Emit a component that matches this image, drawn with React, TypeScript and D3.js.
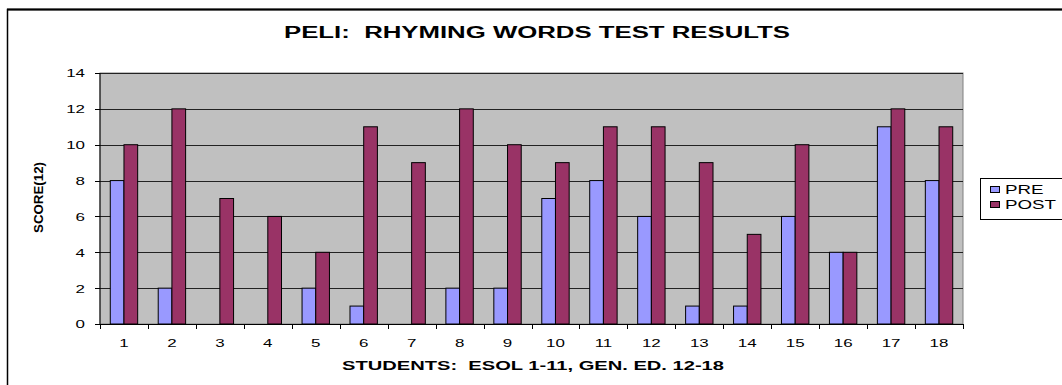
import React from "react";
import * as d3 from "d3";

const students = ["1","2","3","4","5","6","7","8","9","10","11","12","13","14","15","16","17","18"];
const preScores = [8,2,0,0,2,1,0,2,2,7,8,6,1,1,6,4,11,8];
const postScores = [10,12,7,6,4,11,9,12,10,9,11,11,9,5,10,4,12,11];
const yTicks = [0,2,4,6,8,10,12,14];
const seriesNames = ["PRE", "POST"];
const seriesColors = ["#9999FF", "#993366"];

const W = 1062, H = 385;
const plot = { left: 100, top: 73, right: 963, bottom: 324 };
const font = "Liberation Sans, Arial, sans-serif";
const SX = 1.5;

export default function App() {
  const x = d3.scaleBand<string>().domain(students).range([plot.left, plot.right]).paddingInner(0).paddingOuter(0);
  const y = d3.scaleLinear().domain([0, 14]).range([plot.bottom, plot.top]);
  const bw = x.bandwidth() / 3.5;
  const series = [preScores, postScores];

  return (
    <svg width={W} height={H} style={{ position: "absolute", left: 0, top: 0, display: "block", background: "#fff" }}>
      <rect x={7.5} y={9.5} width={1100} height={400} fill="white" stroke="#000" strokeWidth={1.5} />
      <line x1={7} x2={W} y1={9.5} y2={9.5} stroke="#000" strokeWidth={2} />
      <text x={284} y={38} fontFamily={font} fontWeight="bold" fontSize={16} textLength={506} lengthAdjust="spacingAndGlyphs" style={{ whiteSpace: "pre" }}>
        PELI:  RHYMING WORDS TEST RESULTS
      </text>
      <rect x={plot.left} y={plot.top} width={plot.right - plot.left} height={plot.bottom - plot.top} fill="#C0C0C0" stroke="#808080" strokeWidth={1} />
      {yTicks.map(t => (
        <g key={t}>
          {t > 0 && <line x1={plot.left} x2={plot.right} y1={Math.round(y(t)) + 0.5} y2={Math.round(y(t)) + 0.5} stroke="#222" strokeWidth={1} />}
          <line x1={plot.left - 5} x2={plot.left} y1={Math.round(y(t)) + 0.5} y2={Math.round(y(t)) + 0.5} stroke="#000" />
          <g transform={`translate(${85}, ${y(t) + 4.4}) scale(${SX},1)`}>
            <text x={0} y={0} textAnchor="end" fontFamily={font} fontSize={11.3}>{t}</text>
          </g>
        </g>
      ))}
      {students.map((s, i) => (
        <g key={s}>
          {series.map((vals, k) => {
            const x0 = (x(s) as number) + (x.bandwidth() - 2 * bw) / 2 + k * bw;
            const v = vals[i];
            if (v <= 0) return null;
            return <rect key={k} x={x0} y={y(v)} width={bw} height={y(0) - y(v)} fill={seriesColors[k]} stroke="#000" strokeWidth={1} />;
          })}
          <g transform={`translate(${(x(s) as number) + x.bandwidth() / 2}, 347) scale(${SX},1)`}>
            <text x={0} y={0} textAnchor="middle" fontFamily={font} fontSize={11.3}>{s}</text>
          </g>
        </g>
      ))}
      <line x1={plot.left} x2={plot.left} y1={plot.top} y2={plot.bottom} stroke="#000" />
      <line x1={plot.left} x2={plot.right} y1={plot.bottom + 0.5} y2={plot.bottom + 0.5} stroke="#000" />
      {[...students.map(s => x(s) as number), plot.right].map((px, i) => (
        <line key={i} x1={Math.round(px) + 0.5} x2={Math.round(px) + 0.5} y1={plot.bottom} y2={plot.bottom + 5} stroke="#000" />
      ))}
      <text x={342} y={370} fontFamily={font} fontWeight="bold" fontSize={13} textLength={382} lengthAdjust="spacingAndGlyphs" style={{ whiteSpace: "pre" }}>
        STUDENTS:  ESOL 1-11, GEN. ED. 12-18
      </text>
      <text transform={`translate(43, 197.5) rotate(-90)`} textAnchor="middle" fontFamily={font} fontWeight="bold" fontSize={12.5} textLength={71} lengthAdjust="spacingAndGlyphs">
        SCORE(12)
      </text>
      <rect x={980.5} y={178.5} width={100} height={41} fill="white" stroke="#000" strokeWidth={1} />
      {seriesNames.map((n, k) => (
        <g key={n}>
          <rect x={990.5} y={186.5 + k * 15} width={9} height={6} fill={seriesColors[k]} stroke="#000" />
          <g transform={`translate(1005, ${193.5 + k * 15}) scale(${SX},1)`}>
            <text x={0} y={0} fontFamily={font} fontSize={12.5}>{n}</text>
          </g>
        </g>
      ))}
    </svg>
  );
}
